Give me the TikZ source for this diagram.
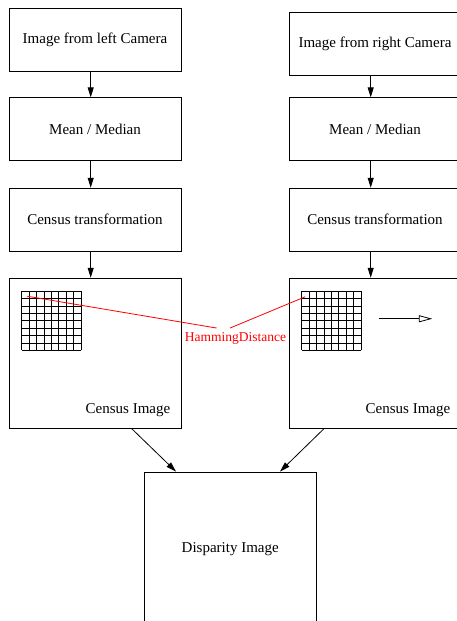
\documentclass[tikz,border=0pt]{standalone}
\usepackage{fontspec}
\setmainfont{Liberation Serif}
\usetikzlibrary{arrows.meta}

\begin{document}
\begin{tikzpicture}[x=1pt,y=-1pt,
  stage/.style={draw,line width=0.9pt,minimum width=172pt,minimum height=63pt,inner sep=0pt,font=\fontsize{15}{18}\selectfont},
  imgbox/.style={stage,minimum height=150pt},
  flow/.style={-{Triangle[length=10pt,width=6pt]},line width=0.8pt},
  cell/.style={line width=0.8pt},
  hamline/.style={red,line width=0.8pt},
  caption/.style={font=\fontsize{15}{18}\selectfont,inner sep=0pt,anchor=base east}]
  \useasboundingbox (0,0) rectangle (457,621);
  \clip (0,0) rectangle (457,621);

  \node[stage] (lcam) at (95,39.5) {Image from left Camera};
  \node[stage] (lmean) at (95,129.3) {Mean / Median};
  \node[stage] (lcen) at (95,219.7) {Census transformation};
  \node[imgbox] (limg) at (95,353.2) {};

  \node[stage] (rcam) at (375,43.7) {Image from right Camera};
  \node[stage] (rmean) at (375,129.3) {Mean / Median};
  \node[stage] (rcen) at (375,219.7) {Census transformation};
  \node[imgbox] (rimg) at (375,353.2) {};

  \node[stage,minimum height=154pt] (disp) at (230.2,549) {Disparity Image};

  \node[caption] at ([shift={(-11,-14.7)}]limg.south east) {Census Image};
  \node[caption] at ([shift={(-11,-14.7)}]rimg.south east) {Census Image};

  \draw[flow] ([xshift=-4.3pt]lcam.south) -- ([xshift=-4.3pt]lmean.north);
  \draw[flow] ([xshift=-4.3pt]lmean.south) -- ([xshift=-4.3pt]lcen.north);
  \draw[flow] ([xshift=-4.3pt]lcen.south) -- ([xshift=-4.3pt]limg.north);
  \draw[flow] ([xshift=-4.3pt]rcam.south) -- ([xshift=-4.3pt]rmean.north);
  \draw[flow] ([xshift=-4.3pt]rmean.south) -- ([xshift=-4.3pt]rcen.north);
  \draw[flow] ([xshift=-4.3pt]rcen.south) -- ([xshift=-4.3pt]rimg.north);
  \draw[flow] ([xshift=36.7pt]limg.south) -- ([xshift=-54.2pt]disp.north);
  \draw[flow] ([xshift=-51pt]rimg.south) -- ([xshift=49.8pt]disp.north);

  \coordinate (lgrid) at ([shift={(13.3,13.4)}]limg.north west);
  \coordinate (rgrid) at ([shift={(13.3,13.4)}]rimg.north west);
  \foreach \g in {lgrid,rgrid}
    \foreach \k in {0,...,8}{
      \draw[cell] (\g) ++(\k*7.4,0) -- ++(0,59.2);
      \draw[cell] (\g) ++(0,\k*7.4) -- ++(59.2,0);
    }

  \coordinate (scanA) at ([shift={(90,41)}]rimg.north west);
  \coordinate (scanB) at ([shift={(143.7,41)}]rimg.north west);
  \draw[-{Triangle[open,length=13.5pt,width=7pt]},line width=0.8pt] (scanA) -- (scanB);

  \node[text=red,font=\fontsize{13.5}{16}\selectfont,inner sep=4.5pt,anchor=base] (ham) at (235.5,341.7) {HammingDistance};
  \coordinate (lpix) at ([shift={(5,5)}]lgrid);
  \coordinate (rpix) at ([shift={(3.4,5.6)}]rgrid);
  \draw[hamline] (lpix) -- ([xshift=-18.8pt]ham.north);
  \draw[hamline] ([xshift=-5.5pt]ham.north) -- (rpix);
\end{tikzpicture}
\end{document}
